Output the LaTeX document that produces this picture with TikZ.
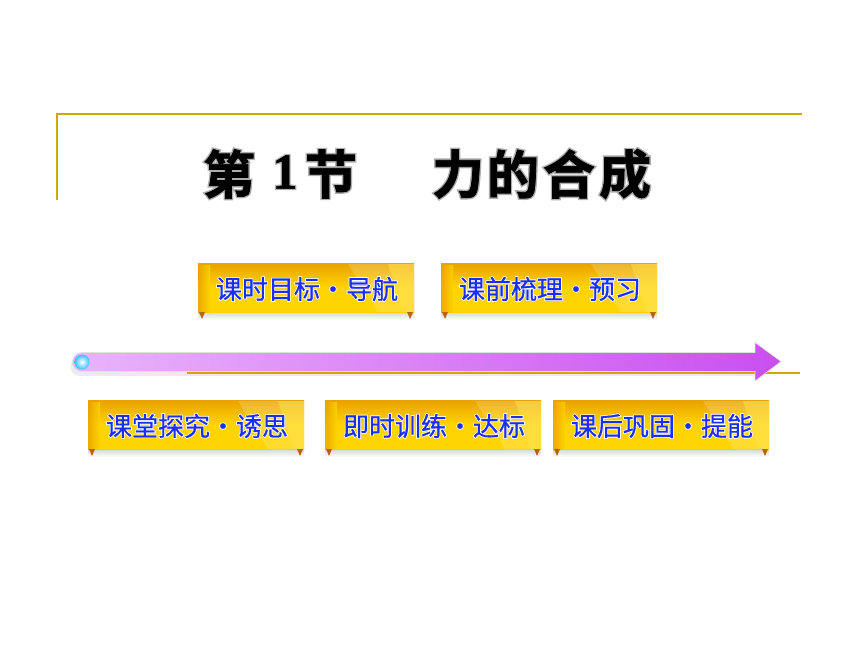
\documentclass[tikz,border=0pt]{standalone}
\usepackage{fontspec}
\newfontfamily\cjk[FakeBold=0.6]{Noto Sans CJK SC}
\newfontfamily\cjkhalo[FakeBold=7]{Noto Sans CJK SC}
\newfontfamily\cjktitle[FakeBold=1.5]{Noto Sans CJK SC Bold}
\newfontfamily\cjktitlehalo[FakeBold=7]{Noto Sans CJK SC Bold}
\newfontfamily\serifnum[FakeBold=1]{Liberation Serif Bold}
\newfontfamily\serifnumhalo[FakeBold=6]{Liberation Serif Bold}
\usetikzlibrary{calc}
\definecolor{goldline}{HTML}{D4A600}
\definecolor{btnedge}{HTML}{E9A200}
\definecolor{btnmid}{HTML}{FFD400}
\definecolor{btnlight}{HTML}{FFE24A}
\definecolor{btnblue}{HTML}{1A2EF5}
\definecolor{arrowL}{HTML}{E9B4FA}
\definecolor{arrowR}{HTML}{C94FF0}
\definecolor{fold}{HTML}{B8640A}
\tikzset{
  btntext/.style={text=btnblue, font=\cjk\fontsize{26}{26}\selectfont, inner sep=0pt},
  btnhalo/.style={text=white, font=\cjkhalo\fontsize{26}{26}\selectfont, inner sep=0pt},
  titletext/.style={text=black, font=\cjktitle\fontsize{52}{52}\selectfont, inner sep=0pt},
  titlehalo/.style={text=black!32, font=\cjktitlehalo\fontsize{52}{52}\selectfont, inner sep=0pt},
  numtext/.style={text=black, font=\serifnum\fontsize{50}{50}\selectfont, inner sep=0pt},
  numhalo/.style={text=black!32, font=\serifnumhalo\fontsize{50}{50}\selectfont, inner sep=0pt},
  ruleline/.style={draw=goldline, line width=2.2pt},
}
% #1 left x, #2 top y, #3 name, #4 text
\newcommand\btnbox[4]{%
  \shade[top color=black!18, bottom color=white] (#1,#2+48) rectangle (#1+216,#2+57);
  \shade[top color=btnedge, bottom color=btnmid, middle color=btnmid] (#1,#2) rectangle (#1+216,#2+49);
  \shade[left color=btnedge, right color=btnmid, opacity=0.8] (#1,#2+2) rectangle (#1+12,#2+49);
  \fill[white, opacity=0.18] (#1+150,#2+1) -- (#1+216,#2+1) -- (#1+216,#2+49) -- (#1+180,#2+49) -- cycle;
  \fill[btnlight, opacity=0.5] (#1+190,#2+1) -- (#1+216,#2+1) -- (#1+216,#2+49) -- (#1+205,#2+49) -- cycle;
  \fill[fold] (#1+1,#2+49) -- (#1+7,#2+49) -- (#1+4,#2+56) -- cycle;
  \fill[fold] (#1+209,#2+49) -- (#1+215,#2+49) -- (#1+212,#2+56) -- cycle;
  \node[btnhalo] (#3h) at (#1+109,#2+26) {#4};
  \node[btntext] (#3) at (#1+109,#2+26) {#4};
}
\begin{document}
\begin{tikzpicture}[x=1pt, y=-1pt]
\useasboundingbox[fill=white] (0,0) rectangle (860,645);
% frame lines
\coordinate (tl) at (57,114);
\coordinate (tr) at (802,114);
\coordinate (bl) at (57,200);
\draw[ruleline] (bl) -- (tl) -- (tr);
% title
\node[titlehalo] (t1h) at (229,174) {第};
\node[titletext] (t1) at (229,174) {第};
\node[numhalo] (t2h) at (285,172) {1};
\node[numtext] (t2) at (285,172) {1};
\node[titlehalo] (t3h) at (331,174) {节};
\node[titletext] (t3) at (331,174) {节};
\node[titlehalo] (t4h) at (458,174) {力};
\node[titletext] (t4) at (458,174) {力};
\node[titlehalo] (t5h) at (513,174) {的};
\node[titletext] (t5) at (513,174) {的};
\node[titlehalo] (t6h) at (569,174) {合};
\node[titletext] (t6) at (569,174) {合};
\node[titlehalo] (t7h) at (625,174) {成};
\node[titletext] (t7) at (625,174) {成};
% buttons row 1
\btnbox{198}{263}{b1}{课时目标・导航}
\btnbox{441}{263}{b2}{课前梳理・预习}
% arrow
\coordinate (gl) at (187,373);
\coordinate (gr) at (800,373);
\fill[black!8] (80,357) -- (757,357) -- (757,376) -- (80,376) arc[start angle=90, end angle=270, radius=9.5] -- cycle;
\draw[draw=goldline, line width=1.8pt] (gl) -- (gr);
\shade[left color=arrowL, right color=arrowR, draw=black!12, line width=0.6pt]
  (82,352.5) -- (755,352.5) -- (755,342.5) -- (781,361.5) -- (755,381) -- (755,371.5) -- (82,371.5)
  arc[start angle=90, end angle=270, radius=9.5] -- cycle;
\shade[inner color=white, outer color=cyan!70!blue!80] (82,362) circle[radius=7.5];
% buttons row 2
\btnbox{88}{400}{b3}{课堂探究・诱思}
\btnbox{325}{400}{b4}{即时训练・达标}
\btnbox{553}{400}{b5}{课后巩固・提能}
\end{tikzpicture}
\end{document}
